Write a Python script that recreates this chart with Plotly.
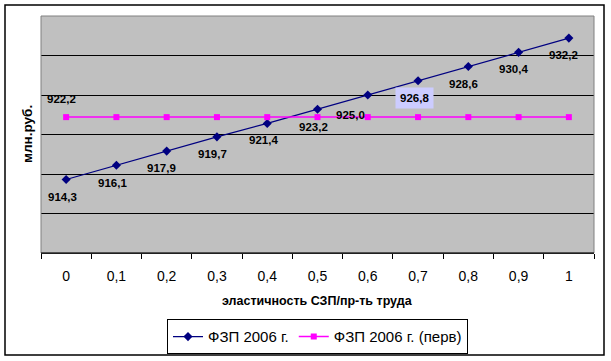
import plotly.graph_objects as go

# Data
x_labels = ["0", "0,1", "0,2", "0,3", "0,4", "0,5", "0,6", "0,7", "0,8", "0,9", "1"]
fzp_2006 = [914.3, 916.1, 917.9, 919.7, 921.4, 923.2, 925.0, 926.8, 928.6, 930.4, 932.2]
fzp_2006_perv = [922.2] * 11
series_names = ["ФЗП 2006 г.", "ФЗП 2006 г. (перв)"]

# label placement tweaks (pixels), style only
label_dx = [-4, -4, -5, -4, -4, -4, -17, -4, -5, -5, -5]
label_dy = [17, 18, 17, 17, 17, 18, 20, 17, 17, 17, 17]

def fmt(v):
    return f"{v:.1f}".replace(".", ",")

fig = go.Figure()
fig.add_trace(go.Scatter(
    x=x_labels, y=fzp_2006, name=series_names[0], mode="lines+markers",
    line=dict(color="#000080", width=1.2),
    marker=dict(symbol="diamond", size=7, color="#000080"),
))
fig.add_trace(go.Scatter(
    x=x_labels, y=fzp_2006_perv, name=series_names[1], mode="lines+markers",
    line=dict(color="#FF00FF", width=1.5),
    marker=dict(symbol="square", size=6, color="#FF00FF"),
))

lab_font = dict(family="Arial, Liberation Sans", size=11.5, color="black", weight="bold")
annotations = []
for i, v in enumerate(fzp_2006):
    a = dict(x=i, y=v, xref="x", yref="y", text=fmt(v), showarrow=False,
             xshift=label_dx[i], yshift=-label_dy[i], font=lab_font)
    if i == 7:
        a.update(bgcolor="#CCCCFF", borderpad=4)
    annotations.append(a)
annotations.append(dict(x=0, y=fzp_2006_perv[0], xref="x", yref="y",
                        text=fmt(fzp_2006_perv[0]), showarrow=False, xshift=-5, yshift=18,
                        font=lab_font))
annotations.append(dict(xref="paper", yref="paper", x=0, y=0.5, xanchor="right", yanchor="middle",
                        xshift=-4, textangle=-90, text="млн.руб.", showarrow=False,
                        font=dict(family="Arial, Liberation Sans", size=13.5, color="black", weight="bold")))
annotations.append(dict(xref="paper", yref="paper", x=0.5, y=0, xanchor="center", yanchor="middle",
                        yshift=-48, text="эластичность СЗП/пр-ть труда", showarrow=False,
                        font=dict(family="Arial, Liberation Sans", size=12.5, color="black", weight="bold")))

fig.update_layout(
    width=611, height=361,
    margin=dict(l=41, r=17, t=16, b=108, autoexpand=False),
    paper_bgcolor="white", plot_bgcolor="#C0C0C0",
    font=dict(family="Arial, Liberation Sans", color="black"),
    showlegend=True,
    legend=dict(orientation="h", x=0.5, xanchor="center", y=-0.28, yanchor="top",
                bordercolor="black", borderwidth=1, bgcolor="white",
                font=dict(size=15, color="black"), itemwidth=30),
    annotations=annotations,
    shapes=[
        dict(type="rect", xref="paper", yref="paper", x0=0, y0=0, x1=1, y1=1,
             line=dict(color="#808080", width=1), layer="above"),
        dict(type="line", xref="paper", yref="paper", x0=0, y0=0, x1=1, y1=0,
             line=dict(color="black", width=1), layer="above"),
        dict(type="rect", xref="paper", yref="paper",
             x0=-36/553, x1=1 + 10/553, y0=-102/237, y1=1 + 11/237,
             line=dict(color="black", width=1.5), layer="below"),
    ],
)
fig.update_xaxes(type="category", tickson="boundaries", ticks="outside", ticklen=5,
                 tickcolor="black", showgrid=False, showline=True, linecolor="black",
                 tickfont=dict(size=14, color="black"), range=[-0.5, 10.5],
                 ticklabelstandoff=10, automargin=False)
fig.update_yaxes(range=[905, 935], dtick=5, showticklabels=False, showgrid=True,
                 gridcolor="black", gridwidth=1, zeroline=False, showline=False, ticks="",
                 automargin=False)

fig.write_html("out.html", config={"displayModeBar": False},
               post_script="document.body.style.margin='0';document.body.style.padding='0';")
